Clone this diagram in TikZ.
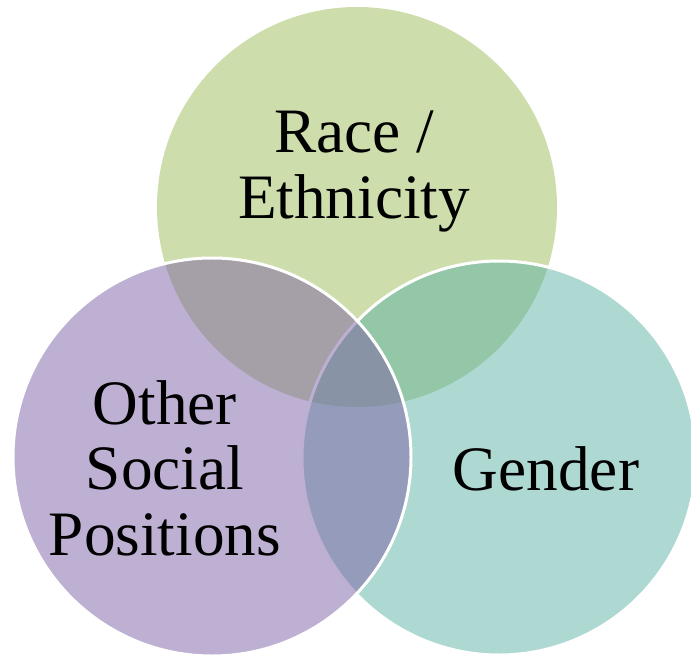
\documentclass[tikz,border=0pt]{standalone}
\usepackage{fontspec}
\setmainfont{Liberation Serif}
\usepackage{xcolor}
\usepackage{tikz}
\usetikzlibrary{shapes, positioning}
\definecolor{vngreen}{RGB}{155,187,89}
\definecolor{vnteal}{RGB}{93,177,165}
\definecolor{vnpurple}{RGB}{125,97,165}

\begin{document}
\begin{tikzpicture}[
        vset/.style={circle, inner sep=0pt, minimum size=#1, fill opacity=0.5, draw=white, line width=1.7pt},
        vlabel/.style={align=center, inner sep=0pt, font=\fontsize{36}{37.2}\selectfont}]
                \useasboundingbox (0,0) rectangle (13.82,13.12);
                \node[vset=8cm, fill=vngreen, draw=none] (race)   at (7.14,8.98) {};
                \node[vset=7.88cm, fill=vnteal]          (gender) at (9.98,3.96) {};
                \node[vset=7.96cm, fill=vnpurple]        (other)  at (4.24,3.98) {};
                \node[vlabel, anchor=base] (raceText)   at (7.08,8.76) {Race /\\Ethnicity};
                \node[vlabel, anchor=base] (genderText) at (10.92,3.32) {Gender};
                \node[vlabel, anchor=base] (otherText)  at (3.30,2.02)  {Other\\Social\\Positions};
            \end{tikzpicture}
\end{document}
